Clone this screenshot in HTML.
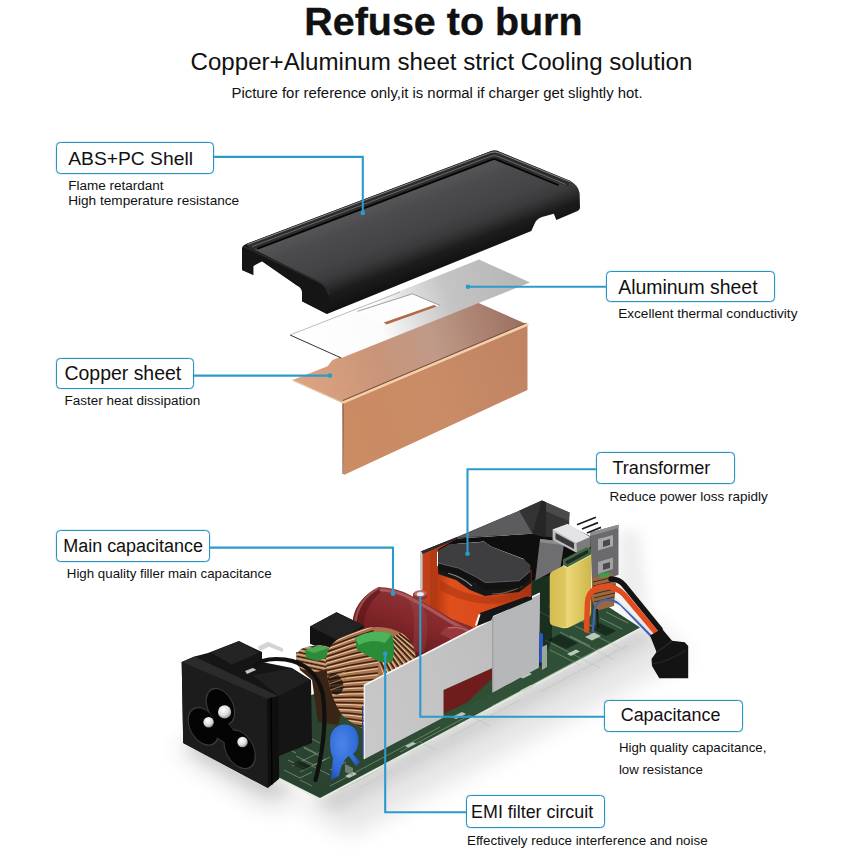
<!DOCTYPE html>
<html><head><meta charset="utf-8"><title>Refuse to burn</title>
<style>
html,body{margin:0;padding:0;background:#fff;}
body{width:850px;height:850px;position:relative;overflow:hidden;font-family:"Liberation Sans",sans-serif;color:#111;}
.t{position:absolute;white-space:nowrap;line-height:1;}
.b{position:absolute;box-sizing:border-box;border:1.6px solid #2b91bf;border-radius:4.5px;box-shadow:0 0 1.5px rgba(90,190,230,0.9);background:#fff;}
svg{position:absolute;left:0;top:0;}
</style></head><body>
<svg width="850" height="850" viewBox="0 0 850 850">
<defs>
<linearGradient id="cuTop" gradientUnits="userSpaceOnUse" x1="300" y1="385" x2="520" y2="315">
<stop offset="0" stop-color="#dca482"/><stop offset="0.35" stop-color="#c99478"/><stop offset="0.6" stop-color="#c09a88"/><stop offset="1" stop-color="#9c7060"/>
</linearGradient>
<linearGradient id="cuFront" gradientUnits="userSpaceOnUse" x1="343" y1="440" x2="528" y2="360">
<stop offset="0" stop-color="#cb8b63"/><stop offset="0.5" stop-color="#c98c66"/><stop offset="1" stop-color="#c08463"/>
</linearGradient>
<linearGradient id="alu" gradientUnits="userSpaceOnUse" x1="300" y1="345" x2="520" y2="275">
<stop offset="0" stop-color="#ffffff"/><stop offset="0.36" stop-color="#fbfbfb"/><stop offset="0.52" stop-color="#dedede"/><stop offset="0.68" stop-color="#c4c4c4"/><stop offset="1" stop-color="#b6b6b6"/>
</linearGradient>
<linearGradient id="shTop" gradientUnits="userSpaceOnUse" x1="330" y1="180" x2="420" y2="300">
<stop offset="0" stop-color="#454547"/><stop offset="0.6" stop-color="#3a3a3c"/><stop offset="1" stop-color="#2a2a2b"/>
</linearGradient>
<linearGradient id="shG" gradientUnits="userSpaceOnUse" x1="368.5" y1="198" x2="402.2" y2="286.8">
<stop offset="0" stop-color="#1a1a1a"/><stop offset="0.06" stop-color="#222"/><stop offset="0.09" stop-color="#555557"/><stop offset="0.25" stop-color="#4b4b4d"/><stop offset="0.5" stop-color="#444446"/><stop offset="0.64" stop-color="#3b3b3d"/><stop offset="0.73" stop-color="#2c2c2d"/><stop offset="0.81" stop-color="#1c1c1d"/><stop offset="1" stop-color="#0f0f0f"/>
</linearGradient>

<linearGradient id="pcbG" gradientUnits="userSpaceOnUse" x1="320" y1="798" x2="640" y2="628">
<stop offset="0" stop-color="#2a4230"/><stop offset="0.5" stop-color="#315238"/><stop offset="1" stop-color="#2d4c35"/>
</linearGradient>
<linearGradient id="plateG" gradientUnits="userSpaceOnUse" x1="364" y1="720" x2="540" y2="630">
<stop offset="0" stop-color="#c8c8c9"/><stop offset="0.5" stop-color="#c2c2c3"/><stop offset="1" stop-color="#bababb"/>
</linearGradient>
<linearGradient id="capG" gradientUnits="userSpaceOnUse" x1="430" y1="598" x2="404" y2="672">
<stop offset="0" stop-color="#8c3236"/><stop offset="0.3" stop-color="#86292d"/><stop offset="0.65" stop-color="#701e20"/><stop offset="1" stop-color="#420e0e"/>
</linearGradient>
<linearGradient id="trG" gradientUnits="userSpaceOnUse" x1="436" y1="0" x2="532" y2="0">
<stop offset="0" stop-color="#b8380f"/><stop offset="0.15" stop-color="#e0501e"/><stop offset="0.6" stop-color="#d8481a"/><stop offset="1" stop-color="#a83010"/>
</linearGradient>
<linearGradient id="yelG" gradientUnits="userSpaceOnUse" x1="550" y1="0" x2="592" y2="0">
<stop offset="0" stop-color="#d8c050"/><stop offset="0.4" stop-color="#ecd878"/><stop offset="1" stop-color="#cdb548"/>
</linearGradient>
<pattern id="coilP" patternUnits="userSpaceOnUse" width="4.2" height="4.2" patternTransform="rotate(-28)">
<rect width="4.2" height="4.2" fill="#b47a52"/><rect y="0" width="4.2" height="1.2" fill="#3a2012"/><rect y="2" width="4.2" height="1" fill="#f0d4b4"/>
</pattern>
<pattern id="coilP2" patternUnits="userSpaceOnUse" width="4.2" height="4.2" patternTransform="rotate(12)">
<rect width="4.2" height="4.2" fill="#a8704a"/><rect y="0" width="4.2" height="1.3" fill="#2e180c"/><rect y="2" width="4.2" height="1" fill="#e8c8a4"/>
</pattern>
<filter id="blur6" x="-20%" y="-20%" width="140%" height="140%"><feGaussianBlur stdDeviation="7"/></filter>
<filter id="blur12" x="-30%" y="-30%" width="160%" height="160%"><feGaussianBlur stdDeviation="12"/></filter>
<filter id="blur2" x="-20%" y="-20%" width="140%" height="140%"><feGaussianBlur stdDeviation="1.2"/></filter>
<radialGradient id="pinG" cx="0.4" cy="0.35" r="0.7"><stop offset="0" stop-color="#ffffff"/><stop offset="0.6" stop-color="#dcdcdc"/><stop offset="1" stop-color="#8a8a8a"/></radialGradient>
<radialGradient id="bluG" cx="0.4" cy="0.35" r="0.8"><stop offset="0" stop-color="#4a86e8"/><stop offset="0.6" stop-color="#2f6ad8"/><stop offset="1" stop-color="#1c48a8"/></radialGradient>
</defs>

<!-- COPPER SHEET -->
<g id="copper">
<polygon points="292.5,380 327.5,366.3 332.5,360 477.5,302.5 527.5,324.5 342.5,402.5" fill="url(#cuTop)"/>
<polygon points="342.5,402.5 527.5,324.5 527.5,390 343.8,475" fill="url(#cuFront)"/>
<path d="M343 400.6L526.5 323" fill="none" stroke="#6e4634" stroke-width="1.2" opacity="0.8"/>
<path d="M292.5 380.3L342.5 402.8" fill="none" stroke="#e8c4a0" stroke-width="1.1"/>
<path d="M342.8 402.6L527.5 324.5" fill="none" stroke="#f4d0a8" stroke-width="2.6" stroke-linecap="round"/>
<path d="M343 403.5V474" stroke="#8a5a3e" stroke-width="1.2" fill="none"/>
</g>

<!-- ALUMINUM SHEET -->
<g id="alu-sheet">
<polygon points="290,335 341.3,358 530,282.5 479,259.5" fill="url(#alu)"/>
<path d="M290 335L341.3 358" stroke="#333" stroke-width="1" fill="none"/>
<path d="M290 335L400 292" stroke="#aaa" stroke-width="0.8" fill="none"/>
<polygon points="357.5,311.3 412.5,293.8 440,305.5 384,325" fill="#fdfdfd"/>
<path d="M357.5 311.3L412.5 293.8L440 305.5" stroke="#888" stroke-width="0.8" fill="none"/>
<polygon points="383.8,322.6 434,305 437,306.6 386.5,324.6" fill="#b06a48"/>
</g>

<!-- SHELL -->
<g id="shell">
<path d="M242 249 Q242 245.5 246 244 L490 151.5 Q495 149.5 500 152 L570.5 181 Q578.5 185.5 579.6 193 L580 207 Q580 210 577 211.3 L556.3 220 L553.8 213.8 L542 217 Q536 219 534 225 L531.3 231 L327 314 L302 301.3 L302 292 Q302 288 297 285.5 L262 261.3 L253.3 266 L253.3 275 L242 270 Z" fill="url(#shG)"/>
<!-- left end cap -->
<path d="M242 248 L246 245.5 L318 281.5 Q328 286 329.5 296 L327 314 L302 301.3 L302 292 Q302 288 297 285.5 L262 261.3 L253.3 266 L253.3 275 L242 270 Z" fill="#151515"/>
<path d="M244 246.5 L318 281.5 Q327 286 329 295" fill="none" stroke="#2c2c2d" stroke-width="1.4"/>
<!-- back rim -->
<path d="M246 244 L490 151.5 Q495 149.5 500 152 L570.5 181 L568 186.5 L497 159.5 Q494.5 158.3 492 159.3 L257 248.5 L250 249 Z" fill="#2c2c2c"/>
<path d="M257 248.8 L492 159.6 Q494.5 158.6 497 159.8 L558.5 185.2" fill="none" stroke="#050505" stroke-width="1.9"/>
<path d="M247.5 244.6 L490.5 152.6 Q495 151 499.5 153.2 L570 181.8" fill="none" stroke="#8c8c8c" stroke-width="0.9"/>
<path d="M252 246.6 L491.2 156 Q495 154.8 498.6 156.5 L566 184.5" fill="none" stroke="#767676" stroke-width="0.8"/>
</g>

<!-- ===== PCB ASSEMBLY ===== -->
<g id="pcbasm">
<!-- soft shadows -->
<polygon points="300,806 350,836 690,655 650,622" fill="#000" opacity="0.10" filter="url(#blur12)"/>
<polygon points="312,800 336,810 656,638 640,625" fill="#000" opacity="0.10" filter="url(#blur6)"/>
<polygon points="175,750 265,808 310,800 200,735" fill="#000" opacity="0.13" filter="url(#blur12)"/>
<polygon points="185,750 268,796 296,790 200,740" fill="#000" opacity="0.10" filter="url(#blur6)"/>
<polygon points="618,530 640,530 650,625 618,610" fill="#000" opacity="0.065" filter="url(#blur6)"/>

<!-- board -->
<polygon points="320,800.3 640,629.8 640,627.5 320,798 276,776 276,778.3" fill="#e6ebe0"/>
<polygon points="320,798 640,627.5 560,575 531,560 531,600 300,700 276,712 276,776" fill="url(#pcbG)"/>
<g stroke="#a9c2a8" stroke-width="0.9" opacity="0.5" fill="none">
<path d="M330 786L440 727M338 791L384 767M400 752L470 715M450 737L520 700M500 702L600 648M540 692L628 645M300 772L330 757M292 766L322 751M312 786L300 780"/>
<path d="M545 640L600 668M560 632L615 660M575 626L625 650M550 650L580 665M470 716L490 726M420 742L436 750"/>
<path d="M290 740L316 753M294 730L320 743M300 760L330 775"/>
</g>
<g fill="#d3dbd0" opacity="0.85">
<polygon points="452,717 462,712 466,714 456,719"/><polygon points="520,690.5 531,685 535,687 524,692.5"/>
<polygon points="585,637 594,632.5 601,636 592,640.5"/><polygon points="567,654 576,649.5 580,651.5 571,656"/><polygon points="520,677 529,672.5 532,674 523,678.5"/><polygon points="345,776 353,772 357,774 349,778"/>
<polygon points="500,706 508,702 511,703.5 503,707.5"/><polygon points="405,746 413,742 416,743.5 408,747.5"/>
</g>

<g stroke="#b9cdb8" stroke-width="0.8" opacity="0.6" fill="none">
<path d="M284 770L300 778L312 772M288 760L306 769M296 756L314 765L326 759M304 748L322 757M286 748L296 753M330 770L346 762M352 784L372 774M360 788L392 771M378 768L398 758M410 752L432 741M438 736L458 726M464 722L486 711M492 706L512 696M516 694L536 684M542 680L564 668M568 666L590 655M596 651L616 641"/>
<path d="M548 606L566 615M556 600L580 612M540 612L560 622M570 636L590 646M600 618L622 629M606 612L628 623M580 620L600 630"/>
</g>
<g fill="#0f1f14" opacity="0.7">
<polygon points="292,764 304,770 312,766 300,760"/><polygon points="548,640 566,649 578,643 560,634"/><polygon points="590,628 606,636 616,631 600,623"/>
<polygon points="345,764 353,768 353,776 345,772" fill="#8a9a8a"/>
</g>
<polygon points="531,582 552,572 552,640 540,668 531,640" fill="#0a160e" opacity="0.55"/>
<!-- shield: left wall + orange inner -->
<polygon points="421.3,553 457,537.5 457,545 437,552 437,612 421.3,603" fill="#b43a16"/>
<polygon points="422.6,553 430,550 430,606 422.6,602" fill="#c8461c" opacity="0.6"/>
<polygon points="420,551.5 422.6,550.6 422.6,590 420,589" fill="#c8c8c8"/>
<!-- dark interior -->
<polygon points="438,549.5 457,538.5 532.4,533.7 569,526 592,537 592,557 563,566 550,575 536,579 531,582 524,559 491,546.5 484,541.5 449,544.6 438,551" fill="#0e0e0e"/>
<!-- roof -->
<polygon points="421.3,551.2 457,537 519.2,510.7 541.8,500.4 532.4,533.5 457,538.5 423,554" fill="#3a3a3a"/>
<polygon points="457,537.6 520,510.5 532.4,533.5" fill="#5c5c5e"/>
<polygon points="421.3,551.2 457,537 458,538.8 422.6,553.4" fill="#2a2a2a"/>
<!-- right dark panel -->
<polygon points="519.2,510.7 541.8,500.4 569.5,512.6 568.6,539 540,536 532.4,533.5" fill="#343434"/>
<polygon points="541.8,500.4 569.5,512.6 568.8,521 542,509.5" fill="#4a4a4a"/>
<polygon points="541.8,500.4 546,502.3 546,537 540,536 532.4,533.5" fill="#262626"/>
<!-- right flap -->
<polygon points="540,539 564.4,541.8 560.6,567.2 535.2,580.4" fill="#6e6e70"/>
<polygon points="540,539 564.4,541.8 563.8,545 540.5,542.5" fill="#8c8c8e"/>

<!-- right gray module -->
<polygon points="590.2,532.4 618.5,524.8 618.5,574.7 592,585" fill="#6a6a6c"/>
<polygon points="590.2,532.4 618.5,524.8 618.5,528 590.2,536" fill="#8e8e90"/>
<polygon points="598,539 613,535 613,546 598,550.5" fill="#a8a8aa"/>
<polygon points="603,541 610,539 610,545 603,547" fill="#4a4a4c"/>
<polygon points="598,562 613,557.5 613,569 598,574" fill="#a2a2a4"/>
<polygon points="603,564 610,562 610,568 603,570" fill="#4a4a4c"/>
<!-- small coil at right -->
<polygon points="592,578 612,573 616,584 614,606 596,611 592,600" fill="#9a6840"/>
<path d="M593 582L614 577M593 586L615 581M593 590L615 585M593 594L615 589M594 598L615 593M594 602L614 597" stroke="#4a2c18" stroke-width="1"/>
<polygon points="598,574.5 608,572.5 611,575.5 601,578" fill="#3aa048"/>
<!-- usb metal -->
<polygon points="552.6,529.5 567.6,523.9 590.2,537.1 590.2,547 577,553 552.6,540" fill="#bdbdbf"/>
<polygon points="552.6,529.5 567.6,523.9 590.2,537.1 576.5,543" fill="#e4e4e6"/>
<polygon points="576.5,543 590.2,537.1 590.2,547 577,553" fill="#7c7c7e"/>
<polygon points="555.5,533 574,543 574,549 555.5,539" fill="#3a3a3c"/>
<g stroke="#1c1c1c" stroke-width="1.7"><path d="M577,524.8 L595.9,517.3M582,529 L598,522.6M587,533 L601,527.4"/></g>

<!-- transformer body -->
<path d="M436.4 566 L436.4 613 Q456 627 480 629 Q500 618 515 603 L531.4 595.4 L531.4 570 Z" fill="url(#trG)"/>
<path d="M440 580 Q470 600 500 596 Q520 592 531 582 L531 590 Q515 602 495 604 Q465 604 440 590Z" fill="#a83410" opacity="0.55"/>
<!-- gap with windings -->
<path d="M438.2 563 L458.6 568.1 L476.3 577 L485.3 582.6 L519.2 580.7 L530.5 571.3 L531 583 L519 592 L485 596 L470 590 L456 580 L438.2 574 Z" fill="#171717"/>
<path d="M448 573 Q462 577 472 586 M452 571 Q466 575 476 584" fill="none" stroke="#b0b0b0" stroke-width="1.1" opacity="0.8"/>
<path d="M492 594 Q508 594 522 586" fill="none" stroke="#8a6a58" stroke-width="1.2" opacity="0.8"/>
<!-- cap side -->
<path d="M438.2 550.6 L438.2 570 L458.6 575.5 L476.3 584.5 L485.3 590 L519.2 588 L530.5 578.5 L530.5 564.9 Z" fill="#121212"/>
<!-- cap top -->
<polygon points="438.2,550.6 449.5,544.6 484.4,541.8 490.9,546.5 523.9,559.3 530.5,564.9 530.1,571.3 519.2,580.7 485.3,582.6 476.3,577 458.6,568.1 438.2,563" fill="#3e3e40"/>
<path d="M438.2 563 L458.6 568.1 L476.3 577 L485.3 582.6 L519.2 580.7 L530.1 571.3" fill="none" stroke="#5e5e60" stroke-width="1"/>

<!-- yellow cap -->
<path d="M549.8 576 Q549.8 572.5 553 571 L563 566 L591.2 552 L591.2 612 Q591.2 616 588 618 L570 627 Q566 629 562 628 L553 625.5 Q549.8 624.5 549.8 621 Z" fill="url(#yelG)"/>
<path d="M549.8 576 Q549.8 572.5 553 571 L563 566 L566 569 L566 627 L553 625.5 Q549.8 624.5 549.8 621 Z" fill="#d2bb52" opacity="0.55"/>
<polygon points="563,559.6 586.5,547.3 591.2,549 591.2,555 567.6,567.5 563,565.5" fill="#3c6a42"/>
<polygon points="565,561.5 588,549.5 588.5,553 567,564.5" fill="#262626"/>
<path d="M563 565.5 L567.6 567.5 L591.2 555" fill="none" stroke="#f0e6a0" stroke-width="1"/>

<!-- main capacitor -->
<path d="M353 618 Q357 598 378.6 587 Q396 587.5 410 595 L428.5 605 L453 619.5 Q468 625 476 628.5 Q482 636 479 648 L474 662 L400 700 L352 650 Z" fill="url(#capG)"/>
<path d="M376 588.5 Q357 599 354.5 622 L352 650 L362 640 Q362 606 382 591 Z" fill="#5a1618" opacity="0.6"/>
<path d="M378 588.5 Q358 599 355 624" fill="none" stroke="#b87274" stroke-width="2.4" opacity="0.55"/>
<path d="M381 590 Q396 590.5 409 597.5 L428 608 L452 622.5 L468 631" fill="none" stroke="#b9696b" stroke-width="3.2" opacity="0.7" stroke-linecap="round"/>
<path d="M408 598 Q418 614 412 652 L424 652 Q432 618 420 601 Z" fill="#a85052" opacity="0.3"/>
<path d="M446 627 Q460 624 471 631 Q479 638 476 650 L468 662 Q458 640 440 634 Z" fill="#96383c"/>
<path d="M448 628 Q460 626 470 632" fill="none" stroke="#c07a7c" stroke-width="1.4" opacity="0.7"/>
<path d="M413 593 L413 598 Q420 602 427 598 L427 593 Z" fill="#8e3438"/>
<ellipse cx="420.2" cy="593.6" rx="6.6" ry="3.4" fill="#b66a6c"/>
<ellipse cx="420.3" cy="594" rx="3.6" ry="2" fill="#f2eaea"/>

<!-- black box -->
<polygon points="310,626.4 336.5,612.2 363.8,625.4 363.8,640 338.4,656 310,643.8" fill="#121212"/>
<polygon points="310,626.4 336.5,612.2 363.8,625.4 338.4,640.5" fill="#232324"/>

<!-- dark area behind small coil -->
<polygon points="296,652 330,660 345,700 338,725 318,722 312,680 300,670" fill="#3a2416"/>
<!-- small coil -->
<path d="M296 658 Q296 650 306 647 L320 645 Q331 645 332 652 L332 664 Q326 672 312 672 Q298 670 296 662Z" fill="url(#coilP2)"/>
<polygon points="305,650 320,645.5 329,648 330,656 318,661 306,658" fill="#2c8a38"/>
<polygon points="305,650 320,645.5 329,648 314,653" fill="#48ac54"/>

<!-- main toroid -->
<clipPath id="torClip"><path d="M326 662 Q326 646 340 638 L362 629 Q385 623 403 634 Q417 645 415.5 660 L414 690 L404 728 Q396 734 380 732 Q358 730 343 716 Q328 696 326 662Z"/></clipPath>
<g clip-path="url(#torClip)">
<rect x="320" y="620" width="100" height="120" fill="#a9724a"/>
<clipPath id="torL"><path d="M320 620H372L378 660L392 700L400 740H320Z"/></clipPath>
<clipPath id="torR"><path d="M372 620H420V740H400L392 700L378 660Z"/></clipPath>
<g clip-path="url(#torL)" fill="none">
<path d="M320 628.0Q349.0 611.3 378 597.8M320 632.4Q349.0 616.6 378 604.1M320 636.8Q349.0 622.0 378 610.4M320 641.2Q349.0 627.3 378 616.6M320 645.6Q349.0 632.6 378 622.9M320 650.0Q349.0 638.0 378 629.1M320 654.4Q349.0 643.3 378 635.4M320 658.8Q349.0 648.6 378 641.6M320 663.2Q349.0 653.9 378 647.9M320 667.6Q349.0 659.3 378 654.1M320 672.0Q349.0 664.6 378 660.4M320 676.4Q349.0 669.9 378 666.7M320 680.8Q349.0 675.3 378 672.9M320 685.2Q349.0 680.6 378 679.2M320 689.6Q349.0 685.9 378 685.4M320 694.0Q349.0 691.2 378 691.7M320 698.4Q349.0 696.6 378 697.9M320 702.8Q349.0 701.9 378 704.2M320 707.2Q349.0 707.2 378 710.4M320 711.6Q349.0 712.6 378 716.7M320 716.0Q349.0 717.9 378 723.0M320 720.4Q349.0 723.2 378 729.2M320 724.8Q349.0 728.5 378 735.5M320 729.2Q349.0 733.9 378 741.7M320 733.6Q349.0 739.2 378 748.0M320 738.0Q349.0 744.5 378 754.2" stroke="#3a2214" stroke-width="1.5"/>
<path d="M320 629.9Q349.0 613.2 378 599.7M320 634.3Q349.0 618.5 378 606.0M320 638.7Q349.0 623.9 378 612.3M320 643.1Q349.0 629.2 378 618.5M320 647.5Q349.0 634.5 378 624.8M320 651.9Q349.0 639.9 378 631.0M320 656.3Q349.0 645.2 378 637.3M320 660.7Q349.0 650.5 378 643.5M320 665.1Q349.0 655.8 378 649.8M320 669.5Q349.0 661.2 378 656.0M320 673.9Q349.0 666.5 378 662.3M320 678.3Q349.0 671.8 378 668.6M320 682.7Q349.0 677.2 378 674.8M320 687.1Q349.0 682.5 378 681.1M320 691.5Q349.0 687.8 378 687.3M320 695.9Q349.0 693.1 378 693.6M320 700.3Q349.0 698.5 378 699.8M320 704.7Q349.0 703.8 378 706.1M320 709.1Q349.0 709.1 378 712.3M320 713.5Q349.0 714.5 378 718.6M320 717.9Q349.0 719.8 378 724.9M320 722.3Q349.0 725.1 378 731.1M320 726.7Q349.0 730.4 378 737.4M320 731.1Q349.0 735.8 378 743.6M320 735.5Q349.0 741.1 378 749.9M320 739.9Q349.0 746.4 378 756.1" stroke="#f2d6b6" stroke-width="1" opacity="0.9"/>
</g>
<g clip-path="url(#torR)" fill="none">
<path d="M402.0 632.0L434.8 654.9M399.1 633.6L430.7 658.1M396.3 635.1L426.6 661.2M393.4 636.7L422.4 664.3M390.6 638.3L418.1 667.3M387.7 639.9L413.8 670.2M384.9 641.4L409.4 673.0M382.0 643.0L404.9 675.8M379.1 644.4L400.4 678.3M376.3 645.9L395.9 680.7M373.4 647.3L391.2 683.1M370.6 648.7L386.6 685.4M367.7 650.1L381.9 687.6M364.9 651.6L377.1 689.6M362.0 653.0L372.4 691.6" stroke="#3a2214" stroke-width="1.5"/>
<path d="M403.6 631.1L436.4 654.0M400.7 632.7L432.3 657.2M397.9 634.2L428.2 660.3M395.0 635.8L424.0 663.4M392.2 637.4L419.7 666.4M389.3 639.0L415.4 669.3M386.5 640.5L411.0 672.1M383.6 642.1L406.5 674.9M380.7 643.5L402.0 677.4M377.9 645.0L397.5 679.8M375.0 646.4L392.8 682.2M372.2 647.8L388.2 684.5M369.3 649.2L383.5 686.7M366.5 650.7L378.7 688.7M363.6 652.1L374.0 690.7" stroke="#f2d6b6" stroke-width="1" opacity="0.9"/>
</g>
<ellipse cx="335" cy="684" rx="8" ry="11" fill="#1a110b" opacity="0.8" transform="rotate(-20 335 684)"/>
<path d="M329 678L345 672M329 684L346 678M330 690L345 685" stroke="#b88458" stroke-width="1.2" fill="none" opacity="0.8"/>
</g>
<!-- green core on toroid -->
<path d="M355 638 Q372 628 392 634 Q396 650 392 662 Q384 664 376 660 L357 650 Z" fill="#2a8c38"/>
<path d="M355 638 Q372 628 392 634 L385 643 Q372 638 359 645 Z" fill="#4db35a"/>

<!-- capacitor seen through cutout -->
<polygon points="443.5,690 492.5,668 492.5,678 468,702 443.5,714" fill="#6e1c1c"/>
<polygon points="468,702 492.5,678 492.5,693 443.5,717.5 443.5,714" fill="#2f4f35"/>
<!-- silver plate -->
<polygon points="363.8,685.5 491,620 492.8,616.1 539.9,593.2 538.8,667.5 492.5,692.5 492.5,668 443.5,690 443.5,717.5 363.8,759.5" fill="url(#plateG)"/>
<polygon points="492.8,616.1 539.9,593.2 538.8,667.5 492.5,692.5" fill="#b6b7b9"/>
<path d="M363.8 685.5 L491 620 M492.8 616.1 L539.9 593.2" stroke="#f6f6f6" stroke-width="1.6" fill="none"/>
<path d="M362.6 706 V756" stroke="#2344a0" stroke-width="1.2" fill="none"/><path d="M364.4 686 V759" stroke="#f0f0f0" stroke-width="1.3" fill="none"/>
<path d="M492.8 616.5 V692" stroke="#9a9b9d" stroke-width="1" fill="none"/>
<polygon points="480,613 525,597 532,596 532,599.5 493,616 491,620.5 477,626" fill="#161616"/>
<path d="M479.6 614.2 L475.9 625.5" stroke="#fafafa" stroke-width="2" fill="none"/>
<!-- blue bit behind plate right -->
<polygon points="539.3,632 543,634 543,664 539.3,662" fill="#2a58c0"/>
<polygon points="542,647 547,644.5 547,667 542,670" fill="#9aa69a"/>

<!-- wires & cable -->
<path d="M611 579 Q619 579 624 585 L660 629.2" fill="none" stroke="#141414" stroke-width="5.4" stroke-linecap="round"/>
<path d="M593 631 L594.5 610 Q596 601 605 600 Q614 599.5 621 605 L651 636" fill="none" stroke="#3d66b4" stroke-width="2.2" stroke-linecap="round"/>
<path d="M615 598 L653.5 634.5" fill="none" stroke="#e6e6e6" stroke-width="1.4"/>
<path d="M586.5 630 L587.5 602 Q589 588 604 586.5 Q616 586 624.5 595 L656 632.5" fill="none" stroke="#e24c1e" stroke-width="5.4" stroke-linecap="round"/>
<path d="M597 609 L598 629" fill="none" stroke="#1a1a1a" stroke-width="2"/>
<polygon points="650,635.5 662,628.8 672,640.8 684.7,642.2 688.2,646 688.2,678.2 659.3,678.2 652,666 651.5,659 656.5,652" fill="#131313"/>
<path d="M656.5 652 Q664 648 672 640.8" fill="none" stroke="#2c2c2c" stroke-width="1.2"/>
<path d="M652 664 Q668 662 686 650" fill="none" stroke="#262626" stroke-width="1.2"/>

<!-- socket -->
<polygon points="194.5,656.4 208,653 239,641 262,652 262,662 292,668 311,680 312,743 281,755 272,760 270,700" fill="#151515"/>
<polygon points="252.8,675.2 290.5,668.6 310.2,680 279,696" fill="#202021"/>
<polygon points="210.5,652.6 238.7,641.3 259.4,652.6 232,664.5" fill="#242425"/>
<polygon points="258,646.5 268,641.8 283,648.3 283,652.3 269,646.8 260,651" fill="#d4d4d6"/>
<polygon points="245,671 254,667.5 256,670 247,674" fill="#c4c4c4"/>
<polygon points="181.7,662 194.5,656.4 278.2,695.9 279.2,778.7 267.9,788 183.2,743" fill="#0f0f0f"/>
<polygon points="181.7,662 267,698.7 267.9,788 183.2,743" fill="#1c1c1d"/>
<polygon points="181.7,662 194.5,656.4 278.2,695.9 267,698.7" fill="#2b2b2c"/>
<path d="M271 697.5 L272 784.5" stroke="#000" stroke-width="1.3"/>
<g fill="#3a3a3b" transform="translate(181.7,661.6) skewY(23.1)">
<ellipse cx="38.7" cy="28.5" rx="14.8" ry="17.7"/><ellipse cx="21.7" cy="55.5" rx="15.8" ry="18.2"/><ellipse cx="58" cy="63" rx="16.2" ry="18.7"/>
<polygon points="30,43 45,40 56,50 46,64 32,61"/>
</g>
<g fill="#040404" transform="translate(181.7,661.6) skewY(23.1)">
<ellipse cx="38.7" cy="28.5" rx="13.6" ry="16.5"/><ellipse cx="21.7" cy="55.5" rx="14.6" ry="17"/><ellipse cx="58" cy="63" rx="15" ry="17.5"/>
<polygon points="31,44 45,41 55,50 46,63 33,60"/>
</g>
<circle cx="224.6" cy="711.9" r="6.6" fill="url(#pinG)"/>
<circle cx="208.6" cy="722.2" r="5.2" fill="url(#pinG)"/>
<circle cx="242.5" cy="742" r="5.2" fill="url(#pinG)"/>

<!-- black wire + blue disc -->
<path d="M254.7 666.5 Q262 657 285 659.5 Q316 664 323 695 Q328 732 315.5 780" fill="none" stroke="#101010" stroke-width="4.2" stroke-linecap="round"/>
<path d="M330 742 Q330 726 344 724.5 Q359 725 358.5 742 Q358 750 353 754 L360 762 L356 766 L349 756 Q342 760 339 776 L331 780 L333 758 Q330 752 330 742Z" fill="url(#bluG)"/>
</g>
</svg>

<svg width="850" height="850" viewBox="0 0 850 850">
<g fill="none" stroke="#2b9bcb" stroke-width="2.1" stroke-linejoin="miter">
<path d="M213.6 156.9H362.8V212.5"/>
<path d="M193.2 375.6H330"/>
<path d="M468 286.7H606.9"/>
<path d="M467.5 553.8V469.2H596.9"/>
<path d="M209 547.6H393V593.8"/>
<path d="M420.3 596V716.7H604.6"/>
<path d="M385.2 653.8V812.2H466.9"/>
</g>
<g fill="#2b9bcb">
<circle cx="362.8" cy="212.9" r="2.3"/>
<circle cx="330" cy="375.6" r="2.3"/>
<circle cx="468" cy="286.7" r="2.3"/>
<circle cx="467.5" cy="553.8" r="2.3"/>
<circle cx="393" cy="593.8" r="2.3"/>
<circle cx="385.2" cy="653.8" r="2.3"/>
</g>
</svg>

<div class="b" style="left:55.6px;top:141.6px;width:158.8px;height:32.6px"></div>
<div class="b" style="left:55.6px;top:357.6px;width:138.4px;height:31.8px"></div>
<div class="b" style="left:606.1px;top:270.6px;width:168.9px;height:31.7px"></div>
<div class="b" style="left:596.1px;top:452.1px;width:138.8px;height:32.2px"></div>
<div class="b" style="left:55.6px;top:530.2px;width:154.2px;height:31.6px"></div>
<div class="b" style="left:603.8px;top:699.9px;width:138.8px;height:31.7px"></div>
<div class="b" style="left:466.1px;top:795.4px;width:138.8px;height:32.2px"></div>
<div class="t" style="left:304.3px;top:1.96px;font-size:39.45px;font-weight:bold;-webkit-text-stroke:0.35px #111">Refuse to burn</div>
<div class="t" style="left:190.5px;top:50.23px;font-size:24.12px">Copper+Aluminum sheet strict Cooling solution</div>
<div class="t" style="left:231.5px;top:85.64px;font-size:14.9px">Picture for reference only,it is normal if charger get slightly hot.</div>
<div class="t" style="left:68.2px;top:148.94px;font-size:19.27px">ABS+PC Shell</div>
<div class="t" style="left:68.2px;top:178.81px;font-size:13.52px">Flame retardant</div>
<div class="t" style="left:68.2px;top:194.43px;font-size:13.61px">High temperature resistance</div>
<div class="t" style="left:64.5px;top:364.49px;font-size:19.45px">Copper sheet</div>
<div class="t" style="left:64.5px;top:393.73px;font-size:13.49px">Faster heat dissipation</div>
<div class="t" style="left:618.2px;top:277.59px;font-size:19.44px">Aluminum sheet</div>
<div class="t" style="left:618.2px;top:307.43px;font-size:13.61px">Excellent thermal conductivity</div>
<div class="t" style="left:612.4px;top:458.70px;font-size:18.13px">Transformer</div>
<div class="t" style="left:609.4px;top:490.02px;font-size:13.5px">Reduce power loss rapidly</div>
<div class="t" style="left:63.2px;top:537.13px;font-size:17.98px">Main capacitance</div>
<div class="t" style="left:66.8px;top:566.99px;font-size:13.3px">High quality filler main capacitance</div>
<div class="t" style="left:620.7px;top:707.06px;font-size:17.95px">Capacitance</div>
<div class="t" style="left:618.9px;top:740.71px;font-size:13.28px">High quality capacitance,</div>
<div class="t" style="left:618.9px;top:763.13px;font-size:13.25px">low resistance</div>
<div class="t" style="left:471.1px;top:803.72px;font-size:17.87px">EMI filter circuit</div>
<div class="t" style="left:467.0px;top:834.37px;font-size:13.33px">Effectively reduce interference and noise</div>
</body></html>
